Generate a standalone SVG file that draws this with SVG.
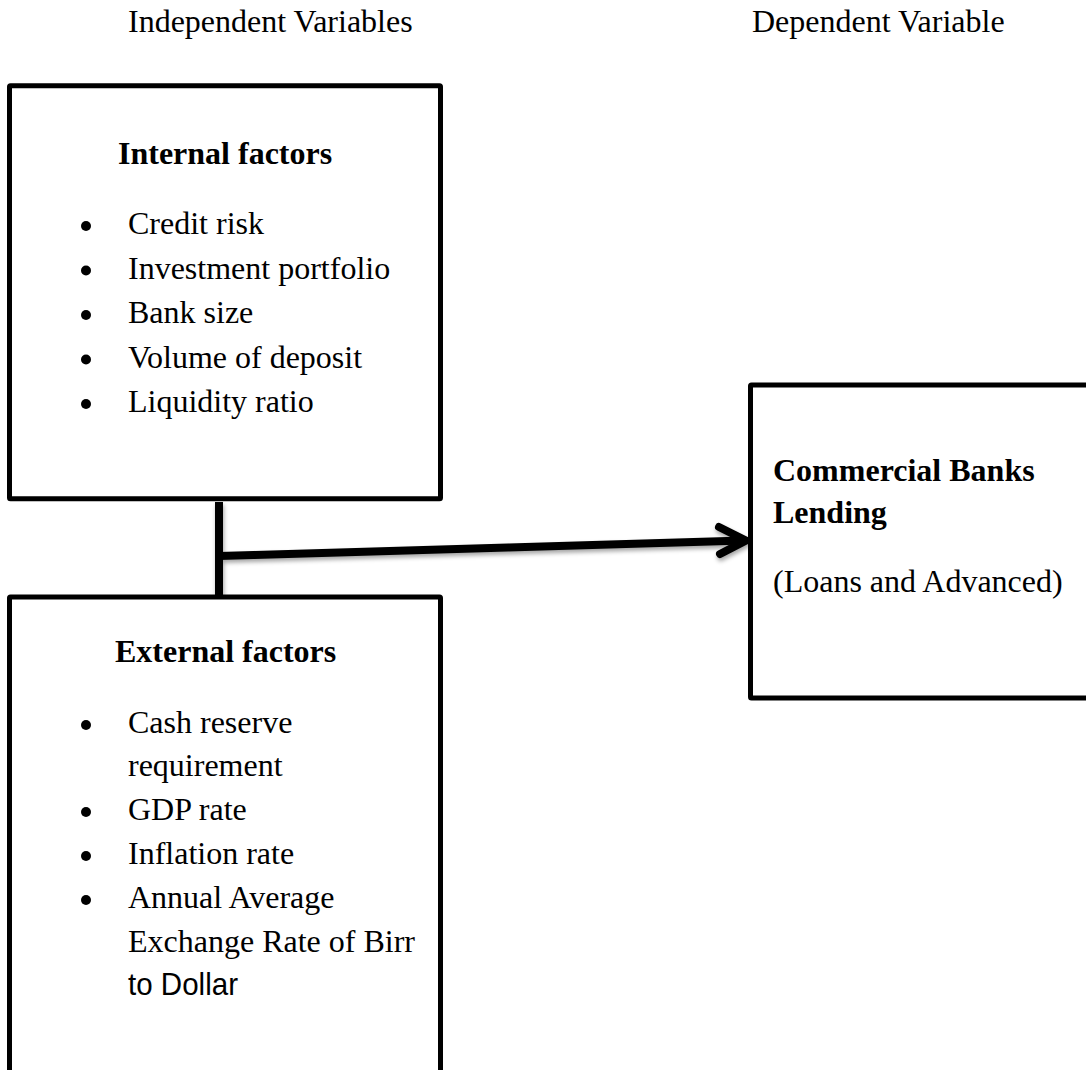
<svg xmlns="http://www.w3.org/2000/svg" width="1086" height="1070" viewBox="0 0 1086 1070">
  <style>
    .t { font-family: "Liberation Serif", "Times New Roman", serif; font-size: 32px; fill: #000; }
    .b { font-weight: bold; }
    .s { font-family: "Liberation Sans", Arial, sans-serif; font-size: 32px; fill: #000; }
    .box { fill: #fff; stroke: #000; stroke-width: 5; }
    .dot { fill: #000; }
    .conn { stroke: #000; fill: none; stroke-width: 8; }
  </style>
  <defs>
    <filter id="sh" x="-5%" y="-50%" width="110%" height="200%">
      <feDropShadow dx="1" dy="3" stdDeviation="2" flood-color="#000" flood-opacity="0.35"/>
    </filter>
  </defs>
  <rect width="1086" height="1070" fill="#fff"/>

  <g id="titles">
    <text class="t" x="128" y="32">Independent Variables</text>
    <text class="t" x="752" y="32">Dependent Variable</text>
  </g>

  <g id="connectors" filter="url(#sh)">
    <line class="conn" x1="219" y1="502" x2="219" y2="596"/>
    <line class="conn" x1="219" y1="556" x2="744" y2="540.5"/>
    <polyline class="conn" points="719,527 746,540.5 720,554" stroke-linecap="round" stroke-linejoin="miter"/>
  </g>

  <g id="internal">
    <rect class="box" x="9.5" y="85.8" width="431" height="413" rx="1"/>
    <text class="t b" x="118" y="164">Internal factors</text>
    <circle class="dot" cx="86" cy="226" r="5"/>
    <text class="t" x="128" y="234">Credit risk</text>
    <circle class="dot" cx="86" cy="270.5" r="5"/>
    <text class="t" x="128" y="278.5">Investment portfolio</text>
    <circle class="dot" cx="86" cy="315" r="5"/>
    <text class="t" x="128" y="323">Bank size</text>
    <circle class="dot" cx="86" cy="359.5" r="5"/>
    <text class="t" x="128" y="367.5">Volume of deposit</text>
    <circle class="dot" cx="86" cy="404" r="5"/>
    <text class="t" x="128" y="412">Liquidity ratio</text>
  </g>

  <g id="external">
    <rect class="box" x="9.5" y="597" width="431" height="476" rx="1"/>
    <text class="t b" x="115" y="662">External factors</text>
    <circle class="dot" cx="86" cy="725" r="5"/>
    <text class="t" x="128" y="733">Cash reserve</text>
    <text class="t" x="128" y="776">requirement</text>
    <circle class="dot" cx="86" cy="812" r="5"/>
    <text class="t" x="128" y="820">GDP rate</text>
    <circle class="dot" cx="86" cy="856" r="5"/>
    <text class="t" x="128" y="864">Inflation rate</text>
    <circle class="dot" cx="86" cy="900" r="5"/>
    <text class="t" x="128" y="908">Annual Average</text>
    <text class="t" x="128" y="952">Exchange Rate of Birr</text>
    <text class="s" x="128" y="995" textLength="110" lengthAdjust="spacingAndGlyphs">to Dollar</text>
  </g>

  <g id="dependent">
    <rect class="box" x="750.5" y="385" width="345" height="313" rx="1"/>
    <text class="t b" x="773" y="481">Commercial Banks</text>
    <text class="t b" x="773" y="523">Lending</text>
    <text class="t" x="773" y="592">(Loans and Advanced)</text>
  </g>
</svg>
